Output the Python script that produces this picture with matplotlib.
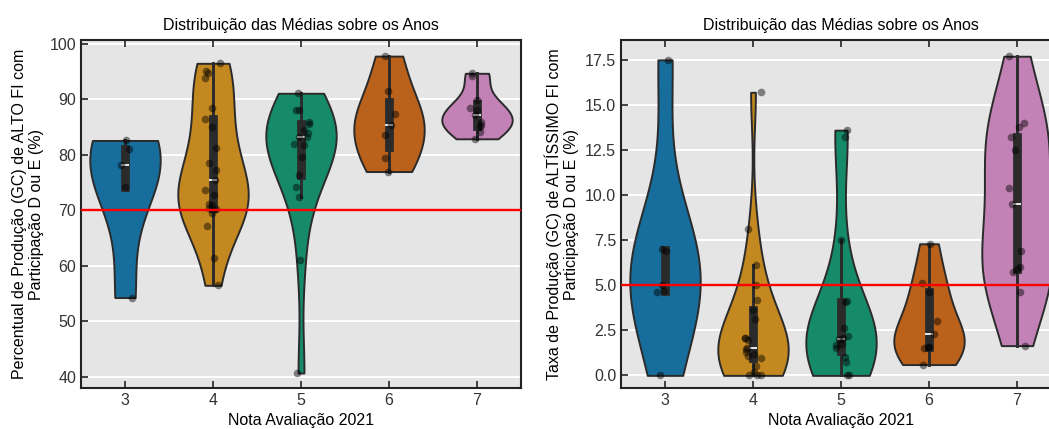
import numpy as np
import matplotlib
matplotlib.use("Agg")
import matplotlib.pyplot as plt
import seaborn as sns
import pandas as pd

# ---------------- data ----------------
notas = [3, 4, 5, 6, 7]

# Left chart: Percentual de Produção (GC) de ALTO FI
alto_3 = [82.6, 81.1, 78.2, 74.3, 54.3]
alto_4 = [96.5, 95.1, 94.8, 93.9, 88.4, 86.5, 85.0, 81.2, 78.5, 77.2, 75.4,
          73.7, 72.7, 71.2, 71.0, 70.4, 70.2, 69.5, 67.2, 61.5, 56.5]
alto_5 = [91.1, 88.0, 88.0, 85.9, 85.6, 84.5, 84.0, 83.3, 83.2, 82.0, 81.8,
          79.7, 76.3, 74.3, 72.4, 61.0, 40.7]
alto_6 = [97.8, 91.5, 87.4, 85.4, 83.6, 79.4, 77.0]
alto_7 = [94.7, 94.3, 89.8, 88.5, 88.0, 87.2, 86.0, 85.4, 85.1, 84.2, 82.9]

# Right chart: Taxa de Produção (GC) de ALTÍSSIMO FI
alt_3 = [17.5, 7.0, 6.9, 5.0, 4.7, 4.65, 0.0]
alt_4 = [15.7, 8.1, 6.1, 5.0, 4.2, 3.6, 3.1, 2.1, 2.05, 1.95, 1.5, 1.45,
         1.3, 1.2, 1.1, 0.95, 0.5, 0.2, 0.0, 0.0, 0.0]
alt_5 = [13.6, 13.2, 7.5, 4.1, 4.05, 2.6, 2.2, 2.07, 2.02, 1.76, 1.7, 1.5,
         1.0, 0.75, 0.0, 0.0]
alt_6 = [7.3, 5.1, 4.6, 3.0, 2.3, 1.6, 1.55, 1.5, 0.6]
alt_7 = [17.7, 14.0, 13.8, 13.2, 12.5, 10.4, 9.5, 6.9, 6.0, 5.9, 5.75, 4.6, 1.65]

ref_left = 70
ref_right = 5.0

title = "Distribuição das Médias sobre os Anos"
xlabel = "Nota Avaliação 2021"
ylabel_left = "Percentual de Produção (GC) de ALTO FI com\nParticipação D ou E (%)"
ylabel_right = "Taxa de Produção (GC) de ALTÍSSIMO FI com\nParticipação D ou E (%)"


def long_frame(groups):
    rows = []
    for n, vals in zip(notas, groups):
        for v in vals:
            rows.append((n, v))
    return pd.DataFrame(rows, columns=["nota", "valor"])


df_left = long_frame([alto_3, alto_4, alto_5, alto_6, alto_7])
df_right = long_frame([alt_3, alt_4, alt_5, alt_6, alt_7])

# ---------------- style ----------------
plt.rcParams["font.family"] = ["Liberation Sans", "DejaVu Sans"]
plt.rcParams["font.size"] = 11.5

palette = sns.color_palette("colorblind", 5)

fig = plt.figure(figsize=(10.49, 4.29), dpi=100)
W, H = 1049, 429
ax1 = fig.add_axes([81 / W, (H - 388) / H, 440 / W, 348 / H])
ax2 = fig.add_axes([621 / W, (H - 388) / H, 440 / W, 348 / H])

np.random.seed(3)


def draw(ax, df, ref, ylabel, ylim, yticks):
    ax.set_facecolor("#E5E5E5")
    ax.set_axisbelow(True)
    ax.yaxis.grid(True, color="white", linewidth=1.4)
    ax.xaxis.grid(False)
    try:
        sns.violinplot(data=df, x="nota", y="valor", hue="nota", order=notas,
                       hue_order=notas, palette=palette, cut=0,
                       density_norm="width", inner="box", linewidth=1.4,
                       linecolor="#2b2b2b", legend=False, ax=ax)
    except TypeError:
        sns.violinplot(data=df, x="nota", y="valor", order=notas,
                       palette=palette, cut=0, scale="width", inner="box",
                       linewidth=1.4, ax=ax)
    sns.stripplot(data=df, x="nota", y="valor", order=notas, color="black",
                  alpha=0.45, size=5.5, jitter=True, ax=ax)
    ax.axhline(ref, color="red", linewidth=1.7, zorder=5)
    ax.set_ylim(*ylim)
    ax.set_yticks(yticks)
    ax.set_xlim(-0.5, 4.5)
    ax.set_title(title, fontsize=11.5, pad=7)
    ax.set_xlabel(xlabel, fontsize=11.5)
    ax.set_ylabel(ylabel, fontsize=11.5)
    ax.xaxis.set_ticks_position("both")
    ax.tick_params(axis="x", direction="in", top=True, bottom=True,
                   length=5, width=1.3, color="#333333", labelcolor="#333333")
    ax.tick_params(axis="y", direction="in", left=True, right=False,
                   length=5, width=1.3, color="#333333", labelcolor="#333333")
    ax.xaxis.set_zorder(0.6)
    for s in ax.spines.values():
        s.set_color("#222222")
        s.set_linewidth(1.5)


draw(ax1, df_left, ref_left, ylabel_left, (38.0, 100.7),
     [40, 50, 60, 70, 80, 90, 100])
draw(ax2, df_right, ref_right, ylabel_right, (-0.7, 18.6),
     [0.0, 2.5, 5.0, 7.5, 10.0, 12.5, 15.0, 17.5])
ax2.set_yticklabels(["0.0", "2.5", "5.0", "7.5", "10.0", "12.5", "15.0", "17.5"])

fig.savefig("out.png", dpi=100)
